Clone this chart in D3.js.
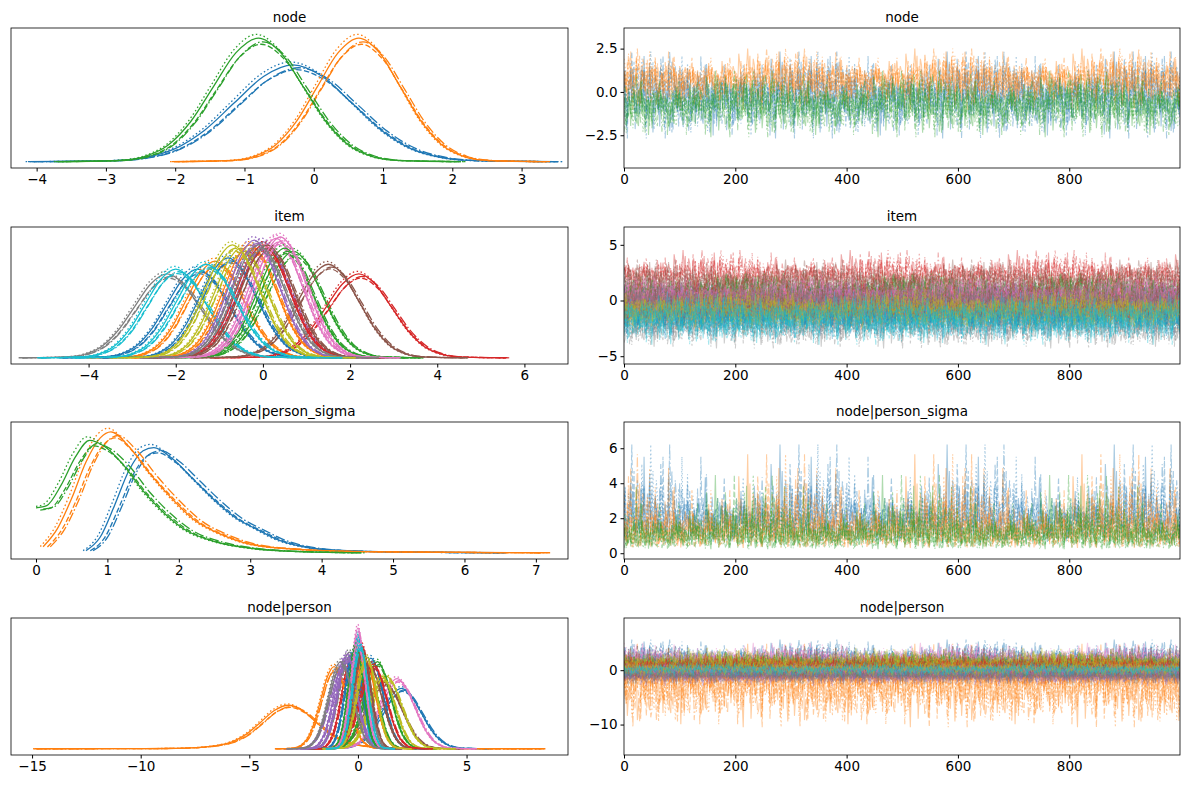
<!DOCTYPE html>
<html>
<head>
<meta charset="utf-8">
<script src="https://cdn.jsdelivr.net/npm/d3@7"></script>
<style>
  body { margin: 0; background: #fff; }
  text { font-family: 'DejaVu Sans', sans-serif; }
</style>
</head>
<body>
<div id="chart"></div>
<script>
const tab10 = ['#1f77b4', '#ff7f0e', '#2ca02c', '#d62728', '#9467bd', '#8c564b', '#e377c2', '#7f7f7f', '#bcbd22', '#17becf']
const titles = ['node', 'item', 'node|person_sigma', 'node|person']

// KDE profile (relative position in sd units, relative height)
const shapeX = [-4.5, -3.5, -3, -2.5, -2, -1.5, -1, -0.5, 0, 0.5, 1, 1.5, 2, 2.5, 3, 3.5, 4.5]
const shapeY = [0, 0.005, 0.012, 0.045, 0.135, 0.325, 0.605, 0.88, 1, 0.88, 0.605, 0.325, 0.135, 0.045, 0.012, 0.005, 0]
const wideX = [-9, -6, -4.5, -3.5, -3, -2.5, -2, -1.5, -1, -0.5, 0, 0.5, 1, 1.5, 2, 2.5, 3, 3.5, 4.5, 6, 9]
const wideY = [0, 0.002, 0.006, 0.02, 0.04, 0.08, 0.16, 0.33, 0.6, 0.88, 1, 0.88, 0.6, 0.33, 0.16, 0.08, 0.04, 0.02, 0.006, 0.002, 0]

// per-chain variations
const chainShift = [0, 0.06, -0.04, 0.1]
const chainPeak = [1, 0.95, 1.03, 0.97]
const chainDash = [null, '5.5,2.4', '1.5,2.5', '9.6,2.4,1.5,2.4']

// node
const nodeCenters = [-0.3, 0.65, -0.8]
const nodeSds = [0.85, 0.6, 0.65]
const nodePeaks = [0.47, 0.6, 0.6]

// item
const itemCenters = [-1.5, -1.1, 0.7, 2.2, 0.0, 1.5, 0.3, -2.2, -0.5, -2.0, -0.8, -0.3, 0.5, 0.0, -0.2, 0.1, 0.4, -0.1, -0.7, -1.3]
const itemSds = [0.7, 0.65, 0.65, 0.75, 0.6, 0.7, 0.6, 0.75, 0.6, 0.7, 0.65, 0.6, 0.62, 0.6, 0.58, 0.6, 0.6, 0.6, 0.62, 0.68]
const itemPeaks = [0.55, 0.6, 0.66, 0.52, 0.72, 0.58, 0.74, 0.52, 0.68, 0.55, 0.62, 0.7, 0.68, 0.7, 0.73, 0.7, 0.75, 0.7, 0.7, 0.58]

// node|person_sigma (explicit density points)
const sigmaX = [
  [0.7, 0.9, 1.1, 1.3, 1.5, 1.65, 1.9, 2.2, 2.5, 2.8, 3.1, 3.4, 3.8, 4.3, 5, 6.5],
  [0.1, 0.3, 0.5, 0.7, 0.9, 1.05, 1.3, 1.6, 1.9, 2.2, 2.6, 3.0, 3.6, 4.5, 7.1],
  [0, 0.15, 0.35, 0.55, 0.75, 0.95, 1.2, 1.5, 1.8, 2.1, 2.5, 3, 3.5, 4.5]
]
const sigmaY = [
  [0.02, 0.15, 0.45, 0.78, 0.97, 1.0, 0.9, 0.7, 0.5, 0.33, 0.22, 0.12, 0.05, 0.02, 0.008, 0],
  [0.05, 0.2, 0.45, 0.75, 0.95, 1, 0.88, 0.65, 0.45, 0.28, 0.15, 0.07, 0.03, 0.01, 0],
  [0.4, 0.42, 0.6, 0.85, 1, 0.95, 0.8, 0.55, 0.35, 0.2, 0.1, 0.04, 0.015, 0]
]
const sigmaPeaks = [0.87, 1, 0.93]
const sigmaMedians = [1.8, 1.2, 0.95]
const sigmaSpread = [0.4, 0.5, 0.5]

// node|person
const personCenters = [2.0, -3.2, 0.4, -0.3, -0.7, 1.2, 1.8, -0.4, 1.3, 0.0, 0.6, -1.1, 0.9, 0.2, -0.6, 0.5, 0.0, 0.1, 1.1, 0.0, -0.2, 0.3, -0.1, 0.7, -0.5, 0.2, 0.0, -0.8, 0.4, 0.1]
const personSds = [0.9, 1.3, 0.5, 0.45, 0.6, 0.8, 0.8, 0.5, 0.7, 0.25, 0.55, 0.6, 0.6, 0.35, 0.5, 0.6, 0.3, 0.4, 0.6, 0.3, 0.4, 0.5, 0.35, 0.6, 0.45, 0.4, 0.35, 0.55, 0.45, 0.35]
const personPeaks = [0.5, 0.36, 0.7, 0.75, 0.7, 0.55, 0.58, 0.8, 0.6, 0.95, 0.75, 0.68, 0.72, 0.85, 0.75, 0.7, 1.0, 0.82, 0.6, 0.9, 0.8, 0.75, 0.85, 0.7, 0.78, 0.82, 0.88, 0.72, 0.76, 0.86]

// trace noise, read as standard units
const wiggle = [0.3, -0.8, 1.2, 0.4, -1.5, 0.9, -0.2, 1.8, -0.6, 0.1, -1.1, 2.3, 0.7, -0.4, -2.1, 0.5, 1.0, -0.9, 0.2, 1.4, -0.3, -1.7, 0.8, -0.1, 2.6, -0.5, 0.6, -1.3, 1.1, -0.7, 0.0, 1.6, -2.4, 0.4, -0.2, 0.9, -1.0, 1.3, 0.2, -0.6, -1.4, 0.7, 2.0, -0.3, 0.5, -0.9, 1.5, -1.8, 0.3, -0.1, 1.1, -0.5, -2.8, 0.6, 0.9, -0.4, 1.7, -1.2, 0.1, 0.4, -0.8, 2.2, -0.2, 0.6, -1.6, 1.0, -0.3, 0.8, -0.7, 1.9, -1.1, 0.2, -0.5, 1.2, -2.0, 0.7, 0.3, -0.9, 1.4, -0.4, 3.1, -0.6, 0.5, -1.3, 0.9, -0.2, -1.9, 1.0, 0.1, -0.7, 1.6, -0.3, 0.4, -1.5, 2.4, -0.8, 0.6, -0.1, -1.2, 1.3, 0.0, -2.2, 0.8, 0.5, -0.6, 1.8, -1.0, 0.3, -0.4, 1.1, -2.6, 0.7, -0.2, 0.9, -1.4, 2.1, -0.5, 0.2, 1.0, -0.9, -1.7, 0.6, 1.5, -0.3, 0.4, -1.1, 2.8, -0.7, 0.1, -0.5, 1.2, -1.6, 0.8, 0.3, -0.8, 1.7, -0.2, -2.3, 0.5, 1.4, -1.0, 0.6, -0.4, 2.0, -1.3, 0.2, 0.9, -0.6, -1.8, 1.1]
const draws = 500

const rows = [[28, 168], [227, 364], [422, 559], [618, 755]]
const leftX = [11, 568]
const rightX = [624, 1180]
const leftDomains = [[-4.37, 3.67], [-5.78, 7.0], [-0.35, 7.45], [-15.97, 9.67]]
const leftTicks = [[-4, -3, -2, -1, 0, 1, 2, 3], [-4, -2, 0, 2, 4, 6], [0, 1, 2, 3, 4, 5, 6, 7], [-15, -10, -5, 0, 5]]
const rightDomains = [[-4.39, 3.69], [-5.7, 6.6], [-0.33, 7.5], [-15.6, 9.6]]
const rightTicks = [[-2.5, 0, 2.5], [-5, 0, 5], [0, 2, 4, 6], [-10, 0]]
const traceTicks = [0, 200, 400, 600, 800]

const svg = d3.select('#chart').append('svg').attr('width', 1189).attr('height', 789)

function curvesFor(row) {
  const out = []
  const add = (xs, ys, c, sd, pk, v) => {
    for (let ch = 0; ch < 4; ch++) {
      out.push({
        color: tab10[v % 10], dash: chainDash[ch],
        pts: xs.map((sx, i) => [c + (sx + chainShift[ch]) * sd, ys[i] * pk * chainPeak[ch]])
      })
    }
  }
  if (row === 0) nodeCenters.forEach((c, v) => add(shapeX, shapeY, c, nodeSds[v], nodePeaks[v], v))
  if (row === 1) itemCenters.forEach((c, v) => add(shapeX, shapeY, c, itemSds[v], itemPeaks[v], v))
  if (row === 2) sigmaX.forEach((xs, v) => add(xs, sigmaY[v], 0, 1, sigmaPeaks[v], v))
  if (row === 3) personCenters.forEach((c, v) => add(v === 1 ? wideX : shapeX, v === 1 ? wideY : shapeY, c, personSds[v], personPeaks[v], v))
  if (row === 2) out.forEach(o => o.pts.forEach(p => { p[0] = Math.max(0, p[0]) }))
  return out
}

function tracesFor(row) {
  const out = []
  const n = wiggle.length
  const add = (v, fn) => {
    for (let ch = 0; ch < 4; ch++) {
      const vals = d3.range(draws).map(i => fn(wiggle[(i * 7 + 31 * ch + 53 * v) % n]))
      out.push({ color: tab10[v % 10], dash: chainDash[ch], vals })
    }
  }
  if (row === 0) nodeCenters.forEach((c, v) => add(v, w => c + w * nodeSds[v]))
  if (row === 1) itemCenters.forEach((c, v) => add(v, w => c + w * itemSds[v]))
  if (row === 2) sigmaMedians.forEach((m, v) => add(v, w => m * Math.exp(w * sigmaSpread[v])))
  if (row === 3) personCenters.forEach((c, v) => add(v, w => c + w * personSds[v] * (v === 1 ? 2 : 1.3)))
  return out
}

function frame(g, x0, x1, y0, y1) {
  g.append('rect').attr('x', x0).attr('y', y0).attr('width', x1 - x0).attr('height', y1 - y0)
    .attr('fill', 'none').attr('stroke', '#000').attr('stroke-width', 0.8)
}

function clip(id, x0, x1, y0, y1) {
  svg.append('clipPath').attr('id', id).append('rect')
    .attr('x', x0).attr('y', y0).attr('width', x1 - x0).attr('height', y1 - y0)
}

rows.forEach(([y0, y1], r) => {
  // left: KDE
  const x = d3.scaleLinear().domain(leftDomains[r]).range(leftX)
  const curves = curvesFor(r)
  const ymax = d3.max(curves, c => d3.max(c.pts, p => p[1]))
  const y = d3.scaleLinear().domain([-0.05 * ymax, 1.05 * ymax]).range([y1, y0])
  const gl = svg.append('g')
  clip('lclip' + r, leftX[0], leftX[1], y0, y1)
  const line = d3.line().x(d => x(d[0])).y(d => y(d[1])).curve(d3.curveMonotoneX)
  gl.append('g').attr('clip-path', `url(#lclip${r})`)
    .selectAll('path').data(curves).enter().append('path')
    .attr('d', d => line(d.pts)).attr('fill', 'none')
    .attr('stroke', d => d.color).attr('stroke-width', 1.3)
    .attr('stroke-dasharray', d => d.dash)
  frame(gl, leftX[0], leftX[1], y0, y1)
  gl.append('g').attr('transform', `translate(0,${y1})`)
    .call(d3.axisBottom(x).tickValues(leftTicks[r]).tickSize(3.5).tickPadding(3).tickFormat(d3.format('d')))
    .call(a => a.select('.domain').remove())
    .selectAll('text').attr('font-size', 13.5).attr('fill', '#000')
  gl.append('text').attr('x', (leftX[0] + leftX[1]) / 2).attr('y', y0 - 6)
    .attr('text-anchor', 'middle').attr('font-size', 13.5).text(titles[r])

  // right: trace
  const tx = d3.scaleLinear().domain([0, 999]).range(rightX)
  const ty = d3.scaleLinear().domain(rightDomains[r]).range([y1, y0])
  const gr = svg.append('g')
  clip('rclip' + r, rightX[0], rightX[1], y0, y1)
  const tline = d3.line().x((d, i) => tx(i * 999 / (draws - 1))).y(d => ty(d))
  gr.append('g').attr('clip-path', `url(#rclip${r})`)
    .selectAll('path').data(tracesFor(r)).enter().append('path')
    .attr('d', d => tline(d.vals)).attr('fill', 'none')
    .attr('stroke', d => d.color).attr('stroke-opacity', 0.38).attr('stroke-width', 1.1)
    .attr('stroke-dasharray', d => d.dash)
  frame(gr, rightX[0], rightX[1], y0, y1)
  gr.append('g').attr('transform', `translate(0,${y1})`)
    .call(d3.axisBottom(tx).tickValues(traceTicks).tickSize(3.5).tickPadding(3).tickFormat(d3.format('d')))
    .call(a => a.select('.domain').remove())
    .selectAll('text').attr('font-size', 13.5).attr('fill', '#000')
  gr.append('g').attr('transform', `translate(${rightX[0]},0)`)
    .call(d3.axisLeft(ty).tickValues(rightTicks[r]).tickSize(3.5).tickPadding(3)
      .tickFormat(r === 0 ? d3.format('.1f') : d3.format('d')))
    .call(a => a.select('.domain').remove())
    .selectAll('text').attr('font-size', 13.5).attr('fill', '#000')
  gr.append('text').attr('x', (rightX[0] + rightX[1]) / 2).attr('y', y0 - 6)
    .attr('text-anchor', 'middle').attr('font-size', 13.5).text(titles[r])
})
</script>
</body>
</html>
